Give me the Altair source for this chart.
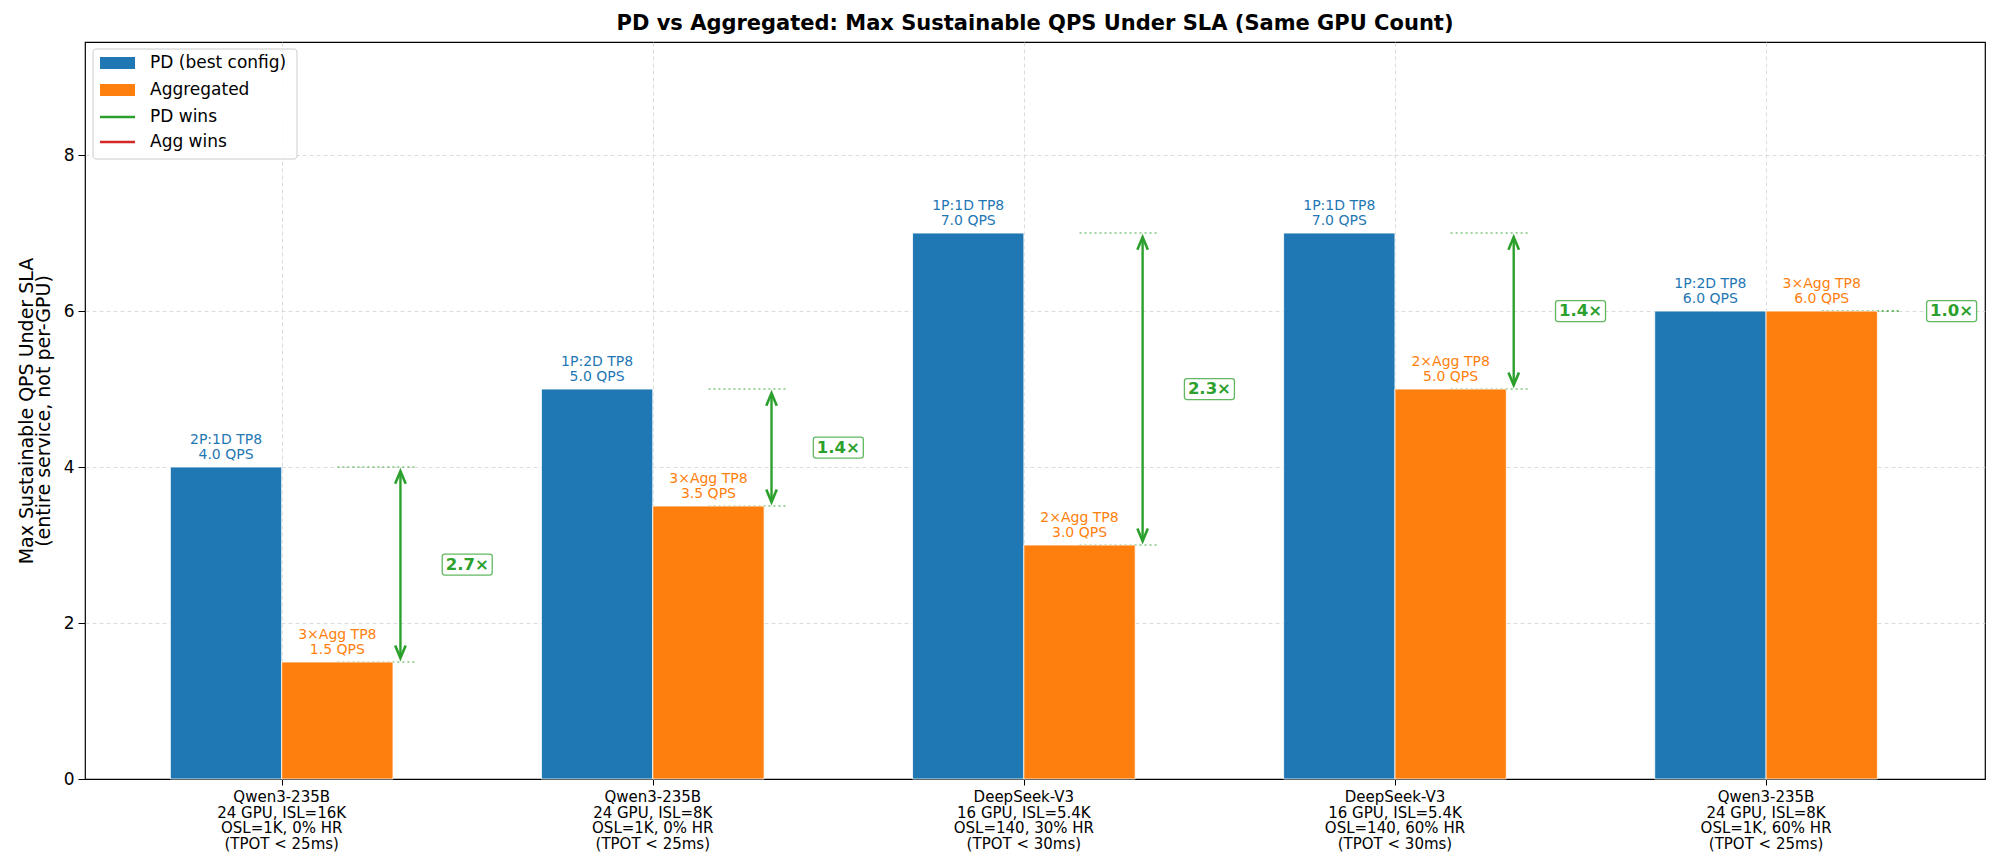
import altair as alt
import pandas as pd

# ---- data ----
models = ["Qwen3-235B", "Qwen3-235B", "DeepSeek-V3", "DeepSeek-V3", "Qwen3-235B"]
setups = ["24 GPU, ISL=16K", "24 GPU, ISL=8K", "16 GPU, ISL=5.4K", "16 GPU, ISL=5.4K", "24 GPU, ISL=8K"]
workloads = ["OSL=1K, 0% HR", "OSL=1K, 0% HR", "OSL=140, 30% HR", "OSL=140, 60% HR", "OSL=1K, 60% HR"]
slas = ["(TPOT < 25ms)", "(TPOT < 25ms)", "(TPOT < 30ms)", "(TPOT < 30ms)", "(TPOT < 25ms)"]
pd_configs = ["2P:1D TP8", "1P:2D TP8", "1P:1D TP8", "1P:1D TP8", "1P:2D TP8"]
agg_configs = ["3×Agg TP8", "3×Agg TP8", "2×Agg TP8", "2×Agg TP8", "3×Agg TP8"]
pd_qps = [4.0, 5.0, 7.0, 7.0, 6.0]
agg_qps = [1.5, 3.5, 3.0, 5.0, 6.0]

legend_labels = ["PD (best config)", "Aggregated", "PD wins", "Agg wins"]
legend_kinds = ["patch", "patch", "line", "line"]

BLUE, ORANGE, GREEN, RED = "#1f77b4", "#ff7f0e", "#2ca02c", "#d62728"
legend_colors = [BLUE, ORANGE, GREEN, RED]
FONT = "DejaVu Sans"

df = pd.DataFrame({
    "idx": list(range(len(models))),
    "scenario": ["\n".join(t) for t in zip(models, setups, workloads, slas)],
    "pd": pd_qps,
    "agg": agg_qps,
    "pd_cfg": pd_configs,
    "agg_cfg": agg_configs,
})

W, H = 1900, 737
xs = alt.Scale(domain=[-0.53, 4.59], nice=False, zero=False)
ys = alt.Scale(domain=[0, 9.45], nice=False, zero=True)
x_axis = alt.Axis(values=[0, 1, 2, 3, 4], labels=False, ticks=True, tickSize=6,
                  tickColor="black", domain=False, grid=True, gridDash=[4, 3],
                  gridColor="#d3d3d3", gridWidth=0.8, title=None)
y_axis = alt.Axis(values=[0, 2, 4, 6, 8], tickSize=7, tickColor="black", labelPadding=4,
                  labelFontSize=17, labelColor="black", labelFont=FONT, domain=False,
                  grid=True, gridDash=[4, 3], gridColor="#d3d3d3", gridWidth=0.8,
                  gridOpacity={"condition": {"test": "datum.value === 0", "value": 0}, "value": 1},
                  title=["Max Sustainable QPS Under SLA", "(entire service, not per-GPU)"],
                  titleFontSize=19, titleFont=FONT, titleFontWeight="normal",
                  titleColor="black", titlePadding=10, titleLineHeight=17)


def X(f):
    return alt.X(f, type="quantitative", scale=xs, axis=x_axis)


def Y(f):
    return alt.Y(f, type="quantitative", scale=ys, axis=y_axis)


base = alt.Chart(df).transform_calculate(
    bx0="datum.idx - 0.3",
    bmid_pd="datum.idx - 0.15",
    omid="datum.idx + 0.15",
    ox1="datum.idx + 0.3",
    dl0="datum.idx + 0.15",
    dl1="datum.idx + 0.36",
    ax="datum.idx + 0.32",
    rx="datum.idx + 0.5",
    mid="(datum.pd + datum.agg) / 2",
    pd_text="datum.pd_cfg + '\\n' + format(datum.pd, '.1f') + ' QPS'",
    agg_text="datum.agg_cfg + '\\n' + format(datum.agg, '.1f') + ' QPS'",
    ratio="format(datum.pd / datum.agg, '.1f') + '×'",
)

# dotted reference lines
dot_pd = base.mark_rule(strokeDash=[2, 3], color=GREEN, opacity=0.6, strokeWidth=1.5).encode(
    x=X("dl0"), x2="dl1", y=Y("pd"))
dot_agg = base.mark_rule(strokeDash=[2, 3], color=GREEN, opacity=0.6, strokeWidth=1.5).encode(
    x=X("dl0"), x2="dl1", y=Y("agg"))

# bars
bar_pd = base.mark_rect(color=BLUE, stroke="white", strokeWidth=0.8).encode(
    x=X("bx0"), x2="idx", y=Y("pd"), y2=alt.datum(0))
bar_agg = base.mark_rect(color=ORANGE, stroke="white", strokeWidth=0.8).encode(
    x=X("idx"), x2="ox1", y=Y("agg"), y2=alt.datum(0))

# bar labels (two lines above each bar)
LH = 15.5
lbl_pd = base.mark_text(color=BLUE, font=FONT, fontSize=14, lineBreak="\n", lineHeight=LH,
                        baseline="bottom", align="center", dy=-(5 + LH)).encode(
    x=X("bmid_pd"), y=Y("pd"), text="pd_text:N")
lbl_agg = base.mark_text(color=ORANGE, font=FONT, fontSize=14, lineBreak="\n", lineHeight=LH,
                         baseline="bottom", align="center", dy=-(5 + LH)).encode(
    x=X("omid"), y=Y("agg"), text="agg_text:N")

# arrows (only where the two differ)
arrows = base.transform_filter("datum.pd != datum.agg")
arrow_line = arrows.mark_rule(color=GREEN, strokeWidth=2.4, yOffset=4, y2Offset=-4).encode(
    x=X("ax"), y=Y("pd"), y2="agg")
head_up = arrows.mark_point(shape="M-0.5,1.2L0,0L0.5,1.2", size=440, filled=False,
                            color=GREEN, strokeWidth=2.6, opacity=1, yOffset=4).encode(
    x=X("ax"), y=Y("pd"))
head_dn = arrows.mark_point(shape="M-0.5,-1.2L0,0L0.5,-1.2", size=440, filled=False,
                            color=GREEN, strokeWidth=2.6, opacity=1, yOffset=-4).encode(
    x=X("ax"), y=Y("agg"))

# ratio labels with boxes
box_path = ("M-0.9,-0.42L0.9,-0.42Q1,-0.42 1,-0.32L1,0.32Q1,0.42 0.9,0.42"
            "L-0.9,0.42Q-1,0.42 -1,0.32L-1,-0.32Q-1,-0.42 -0.9,-0.42Z")
ratio_box = base.mark_point(shape=box_path, size=2500, filled=True, fill="white", fillOpacity=1,
                            stroke=GREEN, strokeOpacity=0.75, strokeWidth=1.3, opacity=1).encode(
    x=X("rx"), y=Y("mid"))
ratio_txt = base.mark_text(color=GREEN, font=FONT, fontSize=16.5, fontWeight="bold",
                           align="center", baseline="middle").encode(
    x=X("rx"), y=Y("mid"), text="ratio:N")

# x tick labels (multi-line)
xlabels = base.mark_text(font=FONT, fontSize=15, lineBreak="\n", lineHeight=15.5,
                         baseline="top", align="center", color="black").encode(
    x=X("idx"), y=alt.value(H + 11), text="scenario:N")

layers = [dot_pd, dot_agg, bar_pd, bar_agg, lbl_pd, lbl_agg, arrow_line, head_up, head_dn,
          ratio_box, ratio_txt, xlabels]

# legend (drawn manually, top-left inside the plot)
one = alt.Data(values=[{"k": 0}])
legend_box = alt.Chart(one).mark_rect(fill="white", fillOpacity=0.85, stroke="#cccccc",
                                      strokeWidth=1, cornerRadius=3).encode(
    x=alt.value(8), x2=alt.value(212), y=alt.value(7), y2=alt.value(117))
layers.append(legend_box)
row_y = [21, 48, 75, 100]
for lab, kind, col, yy in zip(legend_labels, legend_kinds, legend_colors, row_y):
    if kind == "patch":
        sym = alt.Chart(one).mark_rect(color=col).encode(
            x=alt.value(15), x2=alt.value(50), y=alt.value(yy - 6), y2=alt.value(yy + 6))
    else:
        sym = alt.Chart(one).mark_rule(color=col, strokeWidth=2.5).encode(
            x=alt.value(15), x2=alt.value(50), y=alt.value(yy))
    txt = alt.Chart(one).mark_text(font=FONT, fontSize=17, align="left", baseline="middle",
                                   color="black").encode(
        x=alt.value(65), y=alt.value(yy), text=alt.value(lab))
    layers += [sym, txt]

chart = alt.layer(*layers).properties(
    width=W, height=H,
    title=alt.TitleParams("PD vs Aggregated: Max Sustainable QPS Under SLA (Same GPU Count)",
                          font=FONT, fontSize=21, fontWeight="bold", color="black",
                          anchor="middle", offset=8),
    autosize=alt.AutoSizeParams(type="none"),
    padding={"left": 85, "top": 42, "right": 14, "bottom": 87},
).configure_view(stroke="black", strokeWidth=1.2)

chart.save("out.html", embed_options={"renderer": "svg", "actions": False})
